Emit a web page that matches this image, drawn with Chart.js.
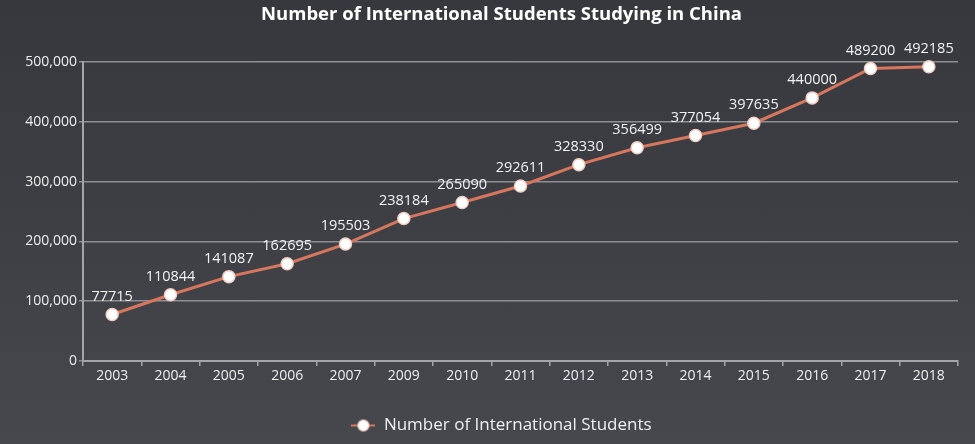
<!DOCTYPE html>
<html>
<head>
<meta charset="utf-8">
<script src="https://cdn.jsdelivr.net/npm/chart.js@4.4.0/dist/chart.umd.min.js"></script>
<style>
  html, body { margin: 0; padding: 0; }
  body { width: 975px; height: 444px; background: linear-gradient(180deg, #36383d 0%, #3d3f45 50%, #46484e 100%); overflow: hidden; }
  #wrap { width: 975px; height: 444px; position: relative; }
</style>
</head>
<body>
<div id="wrap"><canvas id="c" width="975" height="444"></canvas></div>
<script>
const years = ['2003','2004','2005','2006','2007','2009','2010','2011','2012','2013','2014','2015','2016','2017','2018'];
const students = [77715,110844,141087,162695,195503,238184,265090,292611,328330,356499,377054,397635,440000,489200,492185];
const yTicks = [0,100000,200000,300000,400000,500000];

const FONT = '"Open Sans", "Noto Sans", sans-serif';
const LINE = '#d6775d';

// legend symbol: line with a circle
const sym = document.createElement('canvas');
sym.width = 24; sym.height = 14;
(function(){
  const g = sym.getContext('2d');
  g.strokeStyle = LINE; g.lineWidth = 2;
  g.beginPath(); g.moveTo(0,7); g.lineTo(24,7); g.stroke();
  g.fillStyle = '#ffffff'; g.strokeStyle = '#f2cfc3'; g.lineWidth = 1.2;
  g.beginPath(); g.arc(12,7,5.5,0,Math.PI*2); g.fill(); g.stroke();
})();

const valueLabels = {
  id: 'valueLabels',
  afterDatasetsDraw(chart) {
    const ctx = chart.ctx;
    const meta = chart.getDatasetMeta(0);
    ctx.save();
    ctx.font = '14.5px ' + FONT;
    ctx.fillStyle = '#f2f2f2';
    ctx.textAlign = 'center';
    ctx.textBaseline = 'middle';
    meta.data.forEach((pt, i) => {
      ctx.fillText(String(chart.data.datasets[0].data[i]), pt.x, pt.y - 18);
    });
    ctx.restore();
  }
};

new Chart(document.getElementById('c'), {
  type: 'line',
  data: {
    labels: years,
    datasets: [{
      label: 'Number of International Students',
      data: students,
      borderColor: LINE,
      borderWidth: 3,
      pointRadius: 6,
      pointHoverRadius: 6,
      pointBackgroundColor: '#ffffff',
      pointBorderColor: '#f2cfc3',
      pointBorderWidth: 1.5,
      pointStyle: 'circle',
      tension: 0,
      clip: false
    }]
  },
  options: {
    responsive: false,
    animation: false,
    devicePixelRatio: 1,
    layout: { padding: { left: 45, right: 17, top: 0, bottom: 0 } },
    plugins: {
      title: {
        display: true,
        text: 'Number of International Students Studying in China',
        color: '#ffffff',
        font: { family: FONT, size: 18.5, weight: 'bold' },
        padding: { top: 4, bottom: 35.8 }
      },
      legend: {
        display: true,
        position: 'bottom',
        labels: {
          color: '#f0f0f0',
          font: { family: FONT, size: 17 },
          usePointStyle: true,
          pointStyleWidth: 24,
          padding: 10,
          generateLabels(chart) {
            return [{
              text: 'Number of International Students',
              pointStyle: sym,
              fillStyle: '#fff',
              strokeStyle: LINE,
              lineWidth: 0,
              fontColor: '#f0f0f0',
              datasetIndex: 0,
              hidden: false
            }];
          }
        }
      },
      tooltip: { enabled: false }
    },
    scales: {
      x: {
        offset: true,
        afterFit(scale) { scale.height = 46; },
        grid: { display: true, drawOnChartArea: false, drawTicks: true, offset: true, tickLength: 5, color: '#a3a5a8', lineWidth: 1.5 },
        border: { display: true, color: '#a3a5a8', width: 2 },
        ticks: { color: '#eeeeee', font: { family: FONT, size: 14 }, padding: 2, maxRotation: 0, autoSkip: false }
      },
      y: {
        min: 0,
        max: 500000,
        afterFit(scale) {
          scale.width = 38;
          scale._computeLabelArea = () => null; // let tick labels extend into the left margin
        },
        afterBuildTicks(scale) { scale.ticks = yTicks.map(v => ({ value: v })); },
        grid: { display: true, color: '#8d8f93', lineWidth: 1.5, drawTicks: true, tickLength: 4 },
        border: { display: true, color: '#a3a5a8', width: 2 },
        ticks: {
          color: '#eeeeee',
          font: { family: FONT, size: 14 },
          padding: 2,
          callback: v => v.toLocaleString('en-US')
        }
      }
    }
  },
  plugins: [valueLabels]
});
</script>
</body>
</html>
